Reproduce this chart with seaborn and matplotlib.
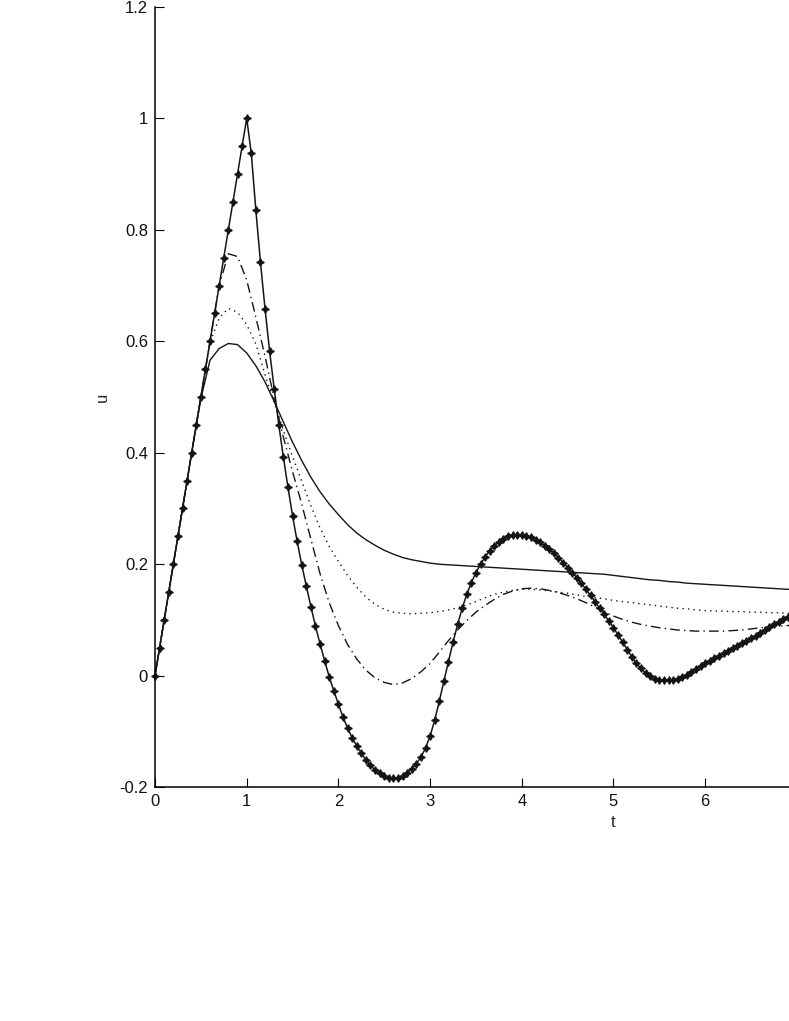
import numpy as np
import matplotlib
matplotlib.use("Agg")
import matplotlib.pyplot as plt
import seaborn as sns

sns.set_style("ticks")
plt.rcParams['font.family'] = ['Liberation Sans', 'DejaVu Sans']

# marked curve, sampled every 0.05 in t
t_marked = np.linspace(0, 7, 141)
u_marked = [
    0.00, 0.05, 0.10, 0.15, 0.20, 0.25, 0.30, 0.35, 0.40, 0.45, 0.50,
    0.55, 0.60, 0.65, 0.70, 0.75, 0.80, 0.85, 0.90, 0.95, 1.00,
    0.937, 0.835, 0.742, 0.658, 0.582, 0.515, 0.450, 0.392, 0.338, 0.287,
    0.241, 0.199, 0.161, 0.124, 0.089, 0.057, 0.027, -0.002, -0.027, -0.051,
    -0.074, -0.094, -0.111, -0.126, -0.139, -0.151, -0.161, -0.169, -0.175, -0.180,
    -0.183, -0.184, -0.183, -0.180, -0.174, -0.167, -0.158, -0.146, -0.130, -0.108,
    -0.080, -0.046, -0.010, 0.025, 0.060, 0.092, 0.121, 0.146, 0.167, 0.185,
    0.200, 0.213, 0.224, 0.233, 0.240, 0.246, 0.250, 0.252, 0.253, 0.253,
    0.251, 0.248, 0.244, 0.239, 0.233, 0.227, 0.220, 0.212, 0.203, 0.194,
    0.185, 0.176, 0.166, 0.155, 0.144, 0.132, 0.121, 0.110, 0.098, 0.086,
    0.073, 0.060, 0.047, 0.034, 0.022, 0.013, 0.005, -0.001, -0.005, -0.007,
    -0.008, -0.008, -0.007, -0.005, -0.002, 0.002, 0.007, 0.012, 0.017, 0.022,
    0.027, 0.031, 0.036, 0.040, 0.044, 0.049, 0.054, 0.058, 0.063, 0.067,
    0.072, 0.077, 0.082, 0.087, 0.092, 0.097, 0.102, 0.106, 0.110, 0.114,
]

# other three curves, sampled every 0.1 in t
t_coarse = np.linspace(0, 7, 71)
u_solid = [
    0.0, 0.1, 0.2, 0.3, 0.4, 0.497, 0.566, 0.587, 0.596, 0.594, 0.579,
    0.556, 0.527, 0.492, 0.455, 0.419, 0.386, 0.356, 0.330, 0.308, 0.289,
    0.271, 0.256, 0.244, 0.234, 0.225, 0.218, 0.212, 0.208, 0.205, 0.202,
    0.200, 0.199, 0.198, 0.197, 0.196, 0.195, 0.194, 0.193, 0.192, 0.191,
    0.190, 0.189, 0.188, 0.187, 0.186, 0.185, 0.184, 0.183, 0.182, 0.180,
    0.178, 0.176, 0.174, 0.172, 0.171, 0.169, 0.168, 0.166, 0.165, 0.164,
    0.163, 0.162, 0.161, 0.160, 0.159, 0.158, 0.157, 0.156, 0.155, 0.154,
]
u_dotted = [
    0.0, 0.1, 0.2, 0.3, 0.4, 0.5, 0.597, 0.642, 0.659, 0.652, 0.630,
    0.595, 0.540, 0.490, 0.440, 0.393, 0.349, 0.305, 0.265, 0.232, 0.205,
    0.180, 0.159, 0.141, 0.128, 0.119, 0.114, 0.112, 0.111, 0.112, 0.113,
    0.115, 0.118, 0.122, 0.127, 0.133, 0.140, 0.146, 0.150, 0.153, 0.155,
    0.155, 0.154, 0.152, 0.150, 0.148, 0.145, 0.142, 0.140, 0.138, 0.135,
    0.133, 0.131, 0.129, 0.127, 0.125, 0.123, 0.121, 0.120, 0.118, 0.117,
    0.116, 0.116, 0.115, 0.115, 0.114, 0.114, 0.113, 0.113, 0.112, 0.112,
]
u_dashdot = [
    0.0, 0.1, 0.2, 0.3, 0.4, 0.5, 0.6, 0.70, 0.757, 0.752, 0.710,
    0.643, 0.573, 0.497, 0.428, 0.366, 0.308, 0.245, 0.183, 0.131, 0.090,
    0.056, 0.030, 0.010, -0.004, -0.012, -0.016, -0.013, -0.005, 0.007, 0.022,
    0.042, 0.063, 0.082, 0.099, 0.114, 0.126, 0.137, 0.146, 0.152, 0.156,
    0.157, 0.156, 0.153, 0.149, 0.144, 0.138, 0.131, 0.123, 0.115, 0.107,
    0.101, 0.096, 0.092, 0.089, 0.086, 0.084, 0.082, 0.081, 0.080, 0.080,
    0.080, 0.080, 0.081, 0.082, 0.084, 0.086, 0.088, 0.089, 0.090, 0.091,
]

x_ticks = [0, 1, 2, 3, 4, 5, 6]
y_ticks = [-0.2, 0, 0.2, 0.4, 0.6, 0.8, 1.0, 1.2]
y_tick_labels = ['-0.2', '0', '0.2', '0.4', '0.6', '0.8', '1', '1.2']

fig = plt.figure(figsize=(7.89, 10.21), dpi=100)
ax = fig.add_axes([155 / 789, 1 - 787.2 / 1021, 634 / 789, 780.4 / 1021])

ink = '#151515'
sns.lineplot(x=t_coarse, y=u_solid, ax=ax, color=ink, linewidth=1.0,
             errorbar=None)
sns.lineplot(x=t_coarse, y=u_dotted, ax=ax, color=ink, linewidth=1.0,
             linestyle=(0, (1, 3)), errorbar=None)
sns.lineplot(x=t_coarse, y=u_dashdot, ax=ax, color=ink, linewidth=1.0,
             linestyle=(0, (7, 3, 1, 3)), errorbar=None)
sns.lineplot(x=t_marked, y=u_marked, ax=ax, color=ink, linewidth=1.1,
             marker=(4, 1, 0), markersize=5.5, markeredgecolor=ink,
             markerfacecolor=ink, markeredgewidth=0.9, errorbar=None,
             clip_on=False)

ax.set_xlim(0, 6.914)
ax.set_ylim(-0.2, 1.2)
ax.set_xticks(x_ticks)
ax.set_xticklabels([str(v) for v in x_ticks])
ax.set_yticks(y_ticks)
ax.set_yticklabels(y_tick_labels)
ax.tick_params(direction='in', length=6.5, width=0.8, pad=5,
               labelsize=12, color='black', labelcolor='#111111')

for side in ['top', 'right']:
    ax.spines[side].set_visible(False)
for side in ['left', 'bottom']:
    ax.spines[side].set_linewidth(1.1)
    ax.spines[side].set_color('black')

ax.set_xlabel('t', fontsize=12)
ax.set_ylabel('u', fontsize=12)
ax.xaxis.set_label_coords(0.7224, -0.035)
ax.yaxis.set_label_coords(-0.071, 0.5)

fig.savefig('out.png', dpi=100)
